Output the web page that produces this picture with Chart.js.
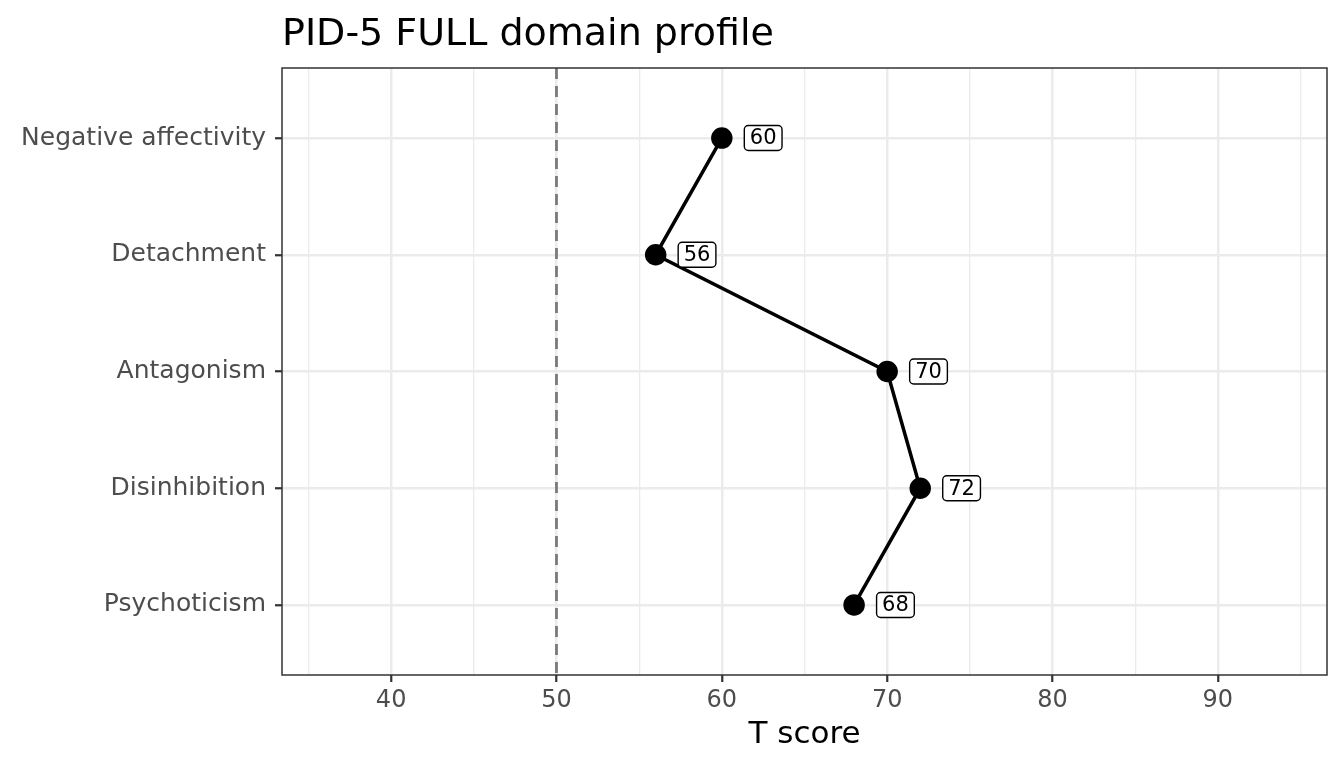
<!DOCTYPE html>
<html lang="en">
<head>
  <meta charset="UTF-8">
  <title>PID-5 FULL domain profile</title>
  <script src="https://cdn.jsdelivr.net/npm/chart.js"></script>
  <style>
    html, body { margin: 0; padding: 0; background: #ffffff; }
    #wrap { width: 1344px; height: 768px; }
  </style>
</head>
<body>
  <div id="wrap"><canvas id="profile" width="1344" height="768"></canvas></div>

  <script>
    const domains = ["Negative affectivity", "Detachment", "Antagonism", "Disinhibition", "Psychoticism"];
    const tScores = [60, 56, 70, 72, 68];
    const xTicks = [35, 40, 45, 50, 55, 60, 65, 70, 75, 80, 85, 90, 95];
    const refLine = 50;
    const labelNudge = 2.5;

    const FONT = "'DejaVu Sans', sans-serif";

    // panel border, title, reference line and value labels
    const decorations = {
      id: "decorations",
      beforeDatasetsDraw(chart) {
        const { ctx, chartArea: a, scales: { x } } = chart;
        const px = x.getPixelForValue(refLine);
        ctx.save();
        ctx.strokeStyle = "#7a7a7a";
        ctx.lineWidth = 2.8;
        ctx.setLineDash([11, 7]);
        ctx.beginPath();
        ctx.moveTo(px, a.top);
        ctx.lineTo(px, a.bottom);
        ctx.stroke();
        ctx.restore();
      },
      afterDatasetsDraw(chart) {
        const { ctx, chartArea: a, scales: { x, y } } = chart;
        ctx.save();
        ctx.font = "21px " + FONT;
        ctx.textAlign = "center";
        ctx.textBaseline = "middle";
        tScores.forEach((v, i) => {
          const cx = x.getPixelForValue(v + labelNudge);
          const cy = y.getPixelForValue(i);
          const w = ctx.measureText(String(v)).width + 11;
          const h = 25;
          ctx.beginPath();
          ctx.roundRect(cx - w / 2, cy - h / 2, w, h, 4);
          ctx.fillStyle = "#ffffff";
          ctx.fill();
          ctx.lineWidth = 1.4;
          ctx.strokeStyle = "#000000";
          ctx.stroke();
          ctx.fillStyle = "#000000";
          ctx.fillText(String(v), cx, cy + 1);
        });
        ctx.strokeStyle = "#333333";
        ctx.lineWidth = 1.5;
        ctx.strokeRect(a.left, a.top, a.right - a.left, a.bottom - a.top);
        ctx.font = "38px " + FONT;
        ctx.textAlign = "left";
        ctx.textBaseline = "alphabetic";
        ctx.fillStyle = "#000000";
        ctx.fillText("PID-5 FULL domain profile", a.left, 45);
        ctx.restore();
      }
    };

    new Chart(document.getElementById("profile"), {
      type: "scatter",
      data: {
        datasets: [{
          data: tScores.map((v, i) => ({ x: v, y: i })),
          showLine: true,
          borderColor: "#000000",
          backgroundColor: "#000000",
          borderWidth: 3.5,
          pointRadius: 9,
          pointHoverRadius: 9
        }]
      },
      options: {
        responsive: false,
        animation: false,
        devicePixelRatio: 1,
        layout: { padding: { top: 68, right: 17, left: 0, bottom: 0 } },
        plugins: {
          legend: { display: false },
          tooltip: { enabled: false }
        },
        scales: {
          x: {
            type: "linear",
            min: 33.4,
            max: 96.6,
            afterBuildTicks: s => { s.ticks = xTicks.map(v => ({ value: v })); },
            afterFit: s => { s.height = 93; },
            border: { display: false },
            grid: {
              color: "#ebebeb",
              lineWidth: c => (c.tick && c.tick.value % 10 === 0) ? 2.5 : 1.3,
              tickColor: c => (c.tick && c.tick.value % 10 === 0) ? "#333333" : "rgba(0,0,0,0)",
              tickLength: 7,
              tickWidth: 2.2
            },
            ticks: {
              autoSkip: false,
              maxRotation: 0,
              padding: 4,
              color: "#4d4d4d",
              font: { family: FONT, size: 24 },
              callback: v => (v % 10 === 0 ? String(v) : "")
            },
            title: {
              display: true,
              text: "T score",
              color: "#000000",
              font: { family: FONT, size: 31 },
              padding: { top: 0, bottom: 14 }
            }
          },
          y: {
            type: "linear",
            reverse: true,
            min: -0.6,
            max: 4.6,
            afterBuildTicks: s => { s.ticks = domains.map((d, i) => ({ value: i })); },
            afterFit: s => { s.width = 282; },
            border: { display: false },
            grid: {
              color: "#ebebeb",
              lineWidth: 2.5,
              tickColor: "#333333",
              tickLength: 7,
              tickWidth: 2.2
            },
            ticks: {
              autoSkip: false,
              padding: 9,
              color: "#4d4d4d",
              font: { family: FONT, size: 25 },
              callback: v => domains[v] || ""
            }
          }
        }
      },
      plugins: [decorations]
    });
  </script>
</body>
</html>
